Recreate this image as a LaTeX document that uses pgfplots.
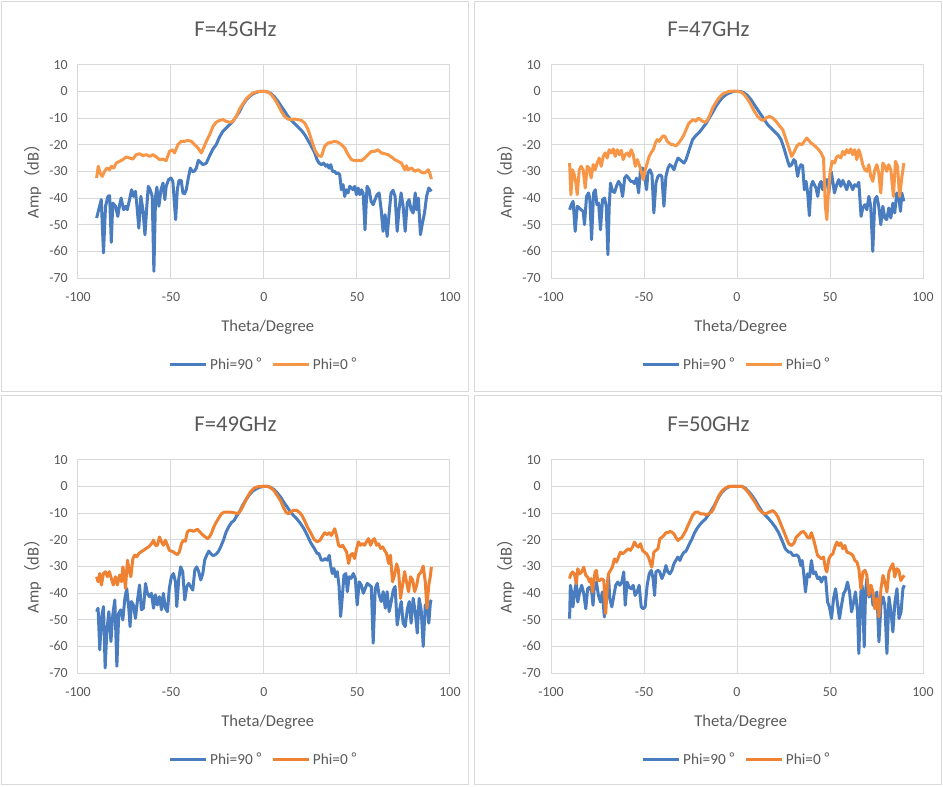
\documentclass[border=0pt]{standalone}
\usepackage{fontspec}
\setmainfont{Carlito}
\newfontfamily\cjk{Noto Sans CJK SC}
\usepackage{pgfplots}
\usepackage{pgfplotstable}
\pgfplotsset{compat=1.18}
\definecolor{txt}{HTML}{595959}
\definecolor{gridc}{HTML}{D9D9D9}
\definecolor{sblue}{HTML}{4A7DBF}
\definecolor{sorange}{HTML}{F79646}
\definecolor{sorangeb}{HTML}{EE8232}

% ---------- F=45GHz ----------
\pgfplotstableread{
x y
-90 -47.5
-89.3 -45.6
-87.5 -40.6
-86.3 -60.6
-85.2 -43.1
-83.9 -39.4
-83.0 -39.1
-82.1 -56.6
-81.3 -41.9
-79.8 -43.1
-78.6 -46.9
-77.7 -42.9
-76.8 -40.0
-75.5 -44.4
-74.4 -43.1
-73.5 -44.4
-72.3 -40.6
-71.2 -36.9
-70.2 -39.4
-69.1 -37.5
-68.3 -43.1
-67.3 -51.3
-66.2 -39.4
-65.1 -44.4
-64.0 -53.8
-63.0 -43.1
-62.2 -35.6
-61.2 -36.9
-60.1 -39.4
-59.2 -67.5
-58.3 -39.4
-57.6 -35.9
-56.5 -43.1
-55.4 -36.9
-54.3 -34.4
-53.3 -40.6
-52.6 -35.6
-51.3 -33.1
-50.0 -32.5
-49.0 -33.8
-47.5 -48.1
-46.6 -36.9
-45.7 -33.4
-44.5 -33.4
-43.6 -38.1
-42.7 -38.4
-41.8 -36.9
-40.7 -32.5
-39.6 -28.8
-38.6 -30.0
-37.5 -30.0
-36.4 -28.8
-35.3 -25.9
-34.1 -26.6
-32.8 -27.5
-31.0 -26.9
-29.2 -24.1
-27.4 -21.6
-25.7 -20.0
-23.9 -17.1
-22.1 -15.0
-20.3 -13.75
-18.5 -12.5
-16.7 -11.25
-14.9 -9.4
-13.1 -7.5
-11.3 -5.0
-9.5 -3.1
-7.7 -1.9
-5.9 -0.9
-4.1 -0.4
-2.3 0
0 0
2.2 -0.25
3.9 -0.9
5.7 -2.1
7.5 -3.75
9.3 -5.6
11.1 -7.5
12.9 -9.4
14.7 -10.9
16.5 -12.1
18.3 -13.4
20.1 -14.6
21.9 -16.25
23.7 -18.4
25.5 -20.6
27.3 -23.1
28.5 -25.6
29.6 -26.9
30.9 -27.5
32.1 -26.9
33.2 -28.1
34.1 -27.5
35.0 -28.8
35.9 -27.5
36.8 -30.0
38.0 -30.0
38.9 -30.9
39.8 -30.6
40.7 -31.25
41.6 -36.9
42.5 -35.0
43.4 -39.4
44.3 -36.9
45.2 -38.1
46.1 -35.6
47.0 -36.25
47.9 -36.9
48.8 -35.6
49.7 -38.75
50.6 -36.25
51.5 -38.75
52.4 -36.9
53.3 -38.1
54.3 -51.9
55.4 -35.6
56.5 -36.9
57.6 -41.25
58.7 -42.5
59.7 -40.6
60.8 -38.75
61.9 -38.1
63.0 -44.4
64.0 -52.5
65.1 -46.25
66.2 -54.4
67.3 -45.6
68.3 -38.1
69.4 -37.1
70.5 -39.4
71.6 -52.5
72.6 -44.4
73.7 -38.1
74.8 -43.1
75.9 -52.5
77.0 -41.9
78.0 -40.6
79.1 -44.4
80.2 -45.6
81.3 -38.1
82.0 -44.4
83.0 -40.0
84.1 -53.75
85.2 -49.4
86.3 -45.6
87.4 -39.4
88.6 -36.25
90.0 -37.5
}\tblueA

\pgfplotstableread{
x y
-90 -32.5
-89.1 -28.1
-88.1 -30.6
-87.0 -31.9
-85.7 -30.0
-84.4 -28.75
-83.0 -29.4
-82.1 -28.1
-80.8 -28.75
-79.4 -26.9
-77.7 -26.25
-75.9 -25.6
-74.1 -24.6
-72.3 -25.0
-70.5 -25.4
-68.7 -23.75
-66.9 -23.4
-65.1 -24.1
-63.3 -23.75
-61.5 -24.4
-59.7 -23.75
-57.9 -24.6
-56.1 -25.6
-54.3 -25.4
-52.6 -26.0
-50.8 -22.5
-49.3 -21.9
-48.1 -23.1
-46.3 -20.0
-44.5 -18.75
-42.7 -18.75
-40.9 -18.4
-39.1 -18.75
-37.3 -20.0
-35.5 -21.25
-33.7 -23.1
-32.5 -21.25
-31.0 -18.75
-29.2 -16.25
-27.4 -13.1
-25.7 -11.6
-23.9 -10.9
-22.1 -10.6
-20.3 -11.25
-18.5 -11.6
-16.7 -11.25
-14.9 -9.4
-13.1 -6.6
-11.3 -4.6
-9.5 -2.75
-7.7 -1.6
-5.9 -0.6
-4.1 -0.25
-2.3 0
0 0
2.2 -0.25
3.9 -1.25
5.7 -2.9
7.5 -5.0
9.3 -7.5
11.1 -9.4
12.9 -10.4
14.7 -10.6
16.5 -10.4
18.3 -10.6
20.1 -10.9
21.9 -11.9
23.7 -14.4
25.5 -18.1
27.3 -21.9
29.1 -24.1
30.9 -24.4
32.6 -20.6
34.4 -19.4
36.2 -19.1
38.0 -18.75
39.8 -19.1
41.6 -20.0
43.4 -21.25
45.2 -23.75
47.0 -25.6
48.8 -26.0
50.6 -25.9
52.4 -26.0
54.2 -25.0
56.0 -23.75
57.8 -22.5
59.6 -22.5
61.3 -21.9
63.1 -23.1
64.9 -23.4
66.7 -23.75
68.5 -24.6
70.3 -25.6
72.1 -26.25
73.9 -26.9
75.7 -29.4
76.6 -27.9
77.5 -29.4
79.3 -28.75
81.1 -30.0
82.9 -29.4
84.7 -30.4
86.5 -30.6
88.3 -29.4
89.1 -30.6
90.0 -32.9
}\torangeA

% ---------- F=47GHz ----------
\pgfplotstableread{
x y
-90 -44.4
-89.1 -42.5
-88.1 -41.25
-87.0 -52.5
-85.9 -43.1
-84.8 -43.75
-83.8 -44.4
-82.7 -45.0
-82.0 -50.0
-80.9 -39.4
-79.8 -38.1
-79.1 -40.6
-78.2 -55.6
-77.1 -38.1
-76.2 -36.9
-75.3 -42.5
-74.4 -41.9
-73.4 -51.9
-72.3 -40.6
-71.2 -40.0
-70.3 -43.1
-69.4 -61.25
-68.7 -43.1
-68.0 -34.4
-66.9 -37.5
-65.8 -37.9
-64.8 -35.6
-63.7 -33.75
-62.6 -35.0
-61.5 -39.4
-60.4 -32.5
-59.4 -31.6
-58.3 -32.5
-57.2 -33.75
-56.1 -33.75
-55.1 -34.6
-54.0 -32.5
-52.9 -38.1
-51.8 -28.75
-50.8 -28.75
-49.7 -31.9
-48.6 -36.9
-47.9 -30.6
-46.8 -29.4
-45.7 -31.25
-44.7 -45.6
-43.6 -34.4
-42.5 -31.9
-41.4 -31.25
-40.4 -31.9
-39.3 -43.1
-38.2 -31.9
-37.1 -28.75
-36.1 -27.5
-35.0 -28.1
-33.9 -29.4
-32.8 -26.9
-31.7 -25.0
-30.7 -25.6
-29.6 -26.25
-28.5 -26.9
-27.4 -25.6
-25.7 -21.9
-23.9 -18.1
-22.1 -16.6
-20.3 -15.4
-18.5 -13.75
-16.7 -12.1
-14.9 -10.0
-13.1 -7.9
-11.3 -5.6
-9.5 -3.75
-7.7 -2.25
-5.9 -1.25
-4.1 -0.6
-2.3 -0.1
0 0
2.2 -0.1
3.9 -0.6
5.7 -1.6
7.5 -3.1
9.3 -5.0
11.1 -6.9
12.9 -8.75
14.7 -10.6
16.5 -12.5
18.3 -13.75
20.1 -15.0
21.9 -16.25
23.7 -18.1
25.5 -21.9
27.3 -26.25
28.2 -28.1
29.4 -27.5
30.5 -25.6
31.4 -26.25
32.6 -31.9
33.5 -28.75
34.4 -27.5
35.3 -27.9
36.2 -36.9
37.1 -33.75
38.0 -38.1
38.9 -46.6
39.8 -35.6
40.7 -33.75
41.6 -35.0
42.5 -36.25
43.4 -39.4
44.3 -35.0
45.2 -33.75
46.1 -36.9
47.0 -33.75
48.3 -33.1
49.3 -38.1
50.6 -30.0
51.5 -33.75
52.4 -38.1
53.6 -35.0
54.7 -33.1
55.8 -35.6
56.9 -33.4
57.9 -35.0
59.0 -36.9
60.1 -33.75
61.2 -35.0
62.2 -36.9
63.3 -35.0
64.4 -35.6
65.5 -34.1
66.7 -46.9
67.6 -43.75
68.7 -42.5
69.8 -44.4
70.9 -39.4
71.9 -43.1
73.0 -60.0
74.1 -40.6
75.2 -39.4
76.2 -43.1
77.3 -50.0
78.4 -43.1
79.5 -47.5
80.5 -48.1
81.6 -43.75
82.7 -47.5
83.8 -41.9
84.8 -45.6
85.9 -38.1
87.0 -40.0
87.9 -45.0
88.6 -38.1
89.7 -41.25
}\tblueB

\pgfplotstableread{
x y
-90 -26.9
-89.3 -38.75
-88.4 -29.4
-87.5 -31.25
-86.6 -34.4
-85.9 -38.75
-84.8 -29.4
-83.8 -28.1
-82.7 -29.4
-81.6 -36.25
-80.5 -28.1
-79.5 -28.75
-78.4 -32.5
-77.3 -27.5
-76.2 -29.4
-75.2 -26.9
-74.1 -25.0
-73.0 -28.1
-71.9 -24.4
-70.9 -23.1
-69.8 -25.0
-68.7 -21.9
-67.6 -23.1
-66.5 -21.6
-65.5 -24.4
-64.4 -21.9
-63.3 -23.75
-62.2 -22.1
-61.2 -25.6
-60.1 -23.75
-59.0 -23.1
-57.9 -24.4
-56.9 -21.9
-55.8 -23.75
-54.7 -28.1
-53.6 -25.6
-52.6 -27.5
-51.5 -30.0
-50.4 -33.1
-49.3 -29.4
-48.3 -26.9
-47.2 -24.4
-46.1 -22.9
-45.0 -21.9
-43.9 -19.4
-42.9 -18.1
-41.8 -18.75
-40.7 -17.5
-39.6 -16.6
-38.6 -17.1
-37.5 -18.75
-36.4 -19.4
-35.3 -20.0
-34.3 -20.0
-32.8 -20.4
-31.4 -19.4
-30.0 -18.1
-28.5 -16.25
-27.4 -14.4
-26.0 -12.1
-24.8 -11.25
-23.5 -10.6
-22.1 -11.25
-20.8 -10.0
-19.6 -10.6
-18.5 -11.25
-17.0 -11.6
-15.8 -10.6
-14.5 -8.75
-13.1 -6.25
-11.3 -4.1
-9.5 -2.25
-7.7 -1.0
-5.9 -0.4
-4.1 0
-2.3 0.1
0 0
2.2 -0.25
3.9 -1.25
5.7 -2.9
7.5 -5.0
9.3 -7.5
11.1 -9.4
12.9 -10.6
14.2 -10.9
15.6 -10.0
17.4 -9.4
19.2 -10.0
21.0 -11.25
22.8 -12.9
24.6 -14.4
26.4 -18.1
28.2 -21.9
29.4 -24.4
30.9 -22.5
32.1 -20.6
33.5 -19.6
35.0 -20.0
36.2 -18.75
37.5 -17.5
38.6 -18.4
39.8 -19.4
41.1 -20.0
42.5 -20.9
43.9 -21.9
45.2 -23.1
46.5 -25.0
47.5 -43.1
48.3 -48.1
49.0 -39.4
50.0 -30.6
51.1 -26.25
52.4 -26.9
53.6 -24.6
54.7 -24.1
55.8 -25.0
56.9 -22.5
57.9 -23.75
59.0 -21.9
60.1 -23.1
61.2 -21.6
62.2 -23.75
63.3 -21.9
64.4 -25.6
65.5 -21.9
66.5 -24.1
67.6 -27.5
68.7 -29.4
69.8 -30.0
70.9 -27.5
71.9 -31.9
73.0 -33.75
74.1 -29.4
75.2 -27.5
76.2 -30.6
77.3 -38.1
78.4 -26.9
79.5 -28.1
80.5 -30.0
81.6 -27.5
82.7 -29.4
84.1 -39.4
85.2 -26.25
86.3 -28.1
87.4 -39.4
88.7 -31.9
89.7 -26.9
}\torangeB

% ---------- F=49GHz ----------
\pgfplotstableread{
x y
-90 -47.0
-89.2 -45.7
-88.3 -61.3
-87.4 -49.5
-86.3 -45.1
-85.4 -68.1
-84.5 -54.4
-83.4 -47.0
-82.3 -58.2
-81.3 -48.2
-80.2 -42.6
-79.1 -67.5
-78.1 -47.6
-77.0 -46.3
-75.9 -50.1
-74.8 -42.0
-73.8 -38.3
-72.7 -45.7
-72.0 -52.6
-71.3 -43.2
-70.2 -44.5
-69.1 -49.5
-68.0 -42.6
-66.9 -37.0
-65.9 -46.3
-64.8 -45.7
-63.7 -36.4
-62.7 -40.1
-61.6 -41.4
-60.5 -40.1
-59.4 -45.7
-58.4 -40.7
-57.3 -44.5
-56.2 -41.4
-55.1 -46.3
-54.1 -40.1
-53.0 -45.7
-51.9 -47.0
-50.9 -38.3
-49.8 -33.9
-48.7 -32.7
-47.6 -35.8
-46.9 -45.1
-45.8 -34.5
-44.8 -30.2
-43.7 -32.0
-42.6 -42.6
-41.5 -37.6
-40.5 -36.4
-39.4 -37.6
-38.3 -38.9
-37.2 -31.4
-36.2 -30.2
-35.1 -32.0
-34.0 -35.1
-32.9 -32.7
-31.9 -27.7
-30.8 -25.8
-29.7 -24.3
-28.6 -25.2
-27.6 -25.9
-26.5 -25.8
-25.4 -25.2
-24.4 -24.3
-23.3 -22.7
-21.8 -20.2
-20.4 -17.2
-19.0 -15.2
-17.5 -13.6
-16.1 -12.8
-14.7 -11.1
-13.3 -9.7
-11.5 -7.2
-9.7 -5.0
-7.9 -3.2
-6.1 -1.8
-4.3 -1.0
-2.5 -0.4
0 0
1.8 0
3.6 -0.4
5.4 -1.2
7.2 -2.5
9.0 -4.1
10.7 -6.0
12.5 -7.8
14.3 -9.7
16.1 -11.1
17.9 -12.4
19.7 -14.0
21.5 -15.9
23.3 -18.4
25.1 -21.1
26.9 -23.1
28.6 -25.2
29.5 -25.2
30.8 -27.7
31.9 -27.7
32.9 -27.1
34.0 -27.7
35.1 -25.9
35.8 -29.6
36.7 -32.7
37.6 -30.8
38.5 -33.9
39.4 -32.0
40.3 -37.0
41.2 -48.8
41.9 -43.2
43.0 -33.3
44.0 -32.7
44.8 -39.5
45.8 -33.9
46.9 -34.5
48.0 -32.7
49.1 -34.5
50.1 -44.5
51.2 -35.8
52.3 -37.0
53.4 -40.1
54.4 -38.3
55.5 -36.4
56.6 -37.0
57.7 -37.6
58.7 -58.8
59.8 -38.3
60.9 -36.4
61.9 -40.7
63.0 -43.2
64.1 -39.5
65.2 -45.7
66.2 -39.5
67.3 -47.0
68.4 -43.2
69.5 -38.9
70.5 -37.6
71.6 -52.0
72.7 -47.0
73.8 -43.2
74.8 -51.3
75.9 -52.6
77.0 -46.3
78.1 -43.2
79.1 -51.3
80.2 -42.0
81.3 -47.0
82.4 -55.0
83.4 -42.0
84.5 -46.3
85.6 -60.0
86.7 -44.5
87.7 -45.1
88.6 -51.3
89.5 -43.2
90.0 -42.6
}\tblueC

\pgfplotstableread{
x y
-90 -33.9
-89.2 -35.8
-88.3 -32.7
-87.4 -37.0
-86.3 -32.7
-85.2 -32.0
-84.2 -33.9
-83.1 -32.0
-82.1 -34.5
-81.0 -37.0
-79.9 -33.9
-78.8 -37.0
-77.7 -33.3
-76.6 -35.8
-75.9 -30.2
-75.2 -32.7
-74.5 -38.3
-73.4 -27.7
-72.3 -32.0
-71.6 -33.9
-70.5 -27.1
-69.5 -25.8
-68.4 -26.4
-67.3 -25.2
-66.2 -24.6
-64.8 -24.0
-63.4 -23.3
-62.0 -22.7
-60.5 -21.5
-59.4 -20.2
-58.4 -22.1
-57.3 -22.1
-56.2 -19.0
-55.1 -20.8
-54.1 -22.1
-53.0 -20.2
-51.9 -22.1
-50.9 -24.0
-49.8 -24.3
-48.7 -24.6
-47.6 -25.2
-46.6 -25.6
-45.5 -24.6
-44.4 -21.5
-43.3 -20.2
-42.3 -20.6
-41.2 -17.1
-40.1 -16.5
-39.0 -16.5
-38.0 -16.9
-36.9 -16.5
-35.8 -16.1
-34.7 -16.9
-33.7 -17.7
-32.6 -18.4
-31.5 -19.0
-30.4 -19.6
-29.4 -19.0
-28.3 -17.7
-27.2 -15.6
-26.1 -14.0
-25.1 -12.8
-24.0 -11.5
-22.9 -10.3
-21.5 -9.7
-19.7 -9.7
-17.9 -9.7
-16.1 -9.9
-14.3 -10.3
-12.5 -9.0
-10.7 -6.6
-9.0 -4.1
-7.2 -2.0
-5.4 -0.7
-3.6 -0.2
-1.8 0
0 0
1.8 0
3.6 -0.5
5.4 -1.6
7.2 -3.5
9.0 -5.5
10.4 -7.8
11.8 -9.7
13.2 -10.3
14.7 -9.4
16.1 -9.0
17.5 -9.0
19.0 -9.7
20.4 -10.9
21.8 -12.8
23.3 -15.2
25.1 -17.4
26.9 -19.9
28.6 -20.8
30.1 -20.2
31.5 -18.6
32.6 -17.4
34.0 -18.1
35.1 -17.4
36.2 -18.4
37.2 -17.1
38.0 -15.9
39.0 -18.4
40.1 -22.1
41.2 -22.7
42.3 -22.1
43.3 -23.3
44.4 -24.6
45.5 -28.9
46.5 -25.8
47.6 -25.2
48.7 -27.1
49.8 -23.3
50.8 -20.8
51.9 -22.1
53.0 -21.5
54.1 -22.1
55.1 -20.8
56.2 -19.6
57.3 -22.1
58.4 -20.2
59.4 -19.6
60.5 -22.1
61.6 -21.5
62.7 -23.3
63.8 -22.7
64.8 -24.0
65.9 -25.2
67.0 -28.9
68.0 -25.8
69.1 -35.8
70.2 -33.3
71.3 -29.1
72.3 -31.4
73.4 -42.0
74.5 -37.0
75.6 -32.0
76.6 -35.8
77.7 -39.5
78.8 -33.9
79.9 -35.1
81.0 -39.5
82.1 -37.0
83.1 -33.3
84.6 -32.0
85.6 -29.9
86.7 -35.8
87.6 -45.7
88.6 -37.0
89.5 -33.3
90.0 -30.2
}\torangeC

% ---------- F=50GHz ----------
\pgfplotstableread{
x y
-90 -49.6
-89.6 -37.1
-88.9 -39.6
-88.2 -45.2
-87.4 -40.2
-86.4 -35.9
-85.6 -43.4
-84.6 -39.6
-83.5 -37.1
-82.4 -40.2
-81.3 -45.9
-80.3 -38.4
-79.2 -37.8
-78.1 -39.6
-77.4 -44.6
-76.7 -37.1
-75.6 -35.9
-74.5 -40.9
-73.4 -43.4
-72.4 -39.6
-71.3 -49.0
-70.2 -39.6
-69.1 -33.4
-68.4 -42.1
-67.3 -45.2
-66.2 -40.9
-65.2 -37.1
-64.1 -35.9
-63.0 -37.1
-61.9 -35.9
-60.9 -32.1
-60.1 -44.6
-59.1 -35.9
-58.0 -37.8
-56.9 -38.4
-55.8 -37.1
-54.8 -40.9
-53.7 -39.6
-52.6 -37.1
-51.5 -45.2
-50.4 -45.9
-49.4 -45.2
-48.3 -37.1
-47.2 -32.8
-46.1 -31.5
-45.1 -34.6
-44.3 -40.9
-43.6 -32.1
-42.5 -31.5
-41.5 -32.1
-40.4 -34.6
-39.3 -32.8
-38.2 -29.7
-37.2 -32.1
-36.1 -32.8
-35.0 -31.5
-33.9 -29.0
-32.9 -27.8
-31.8 -26.5
-30.7 -27.8
-29.6 -25.9
-28.5 -24.7
-27.5 -24.4
-26.0 -22.2
-24.2 -19.7
-22.8 -17.4
-21.4 -15.7
-20.0 -14.4
-18.5 -13.2
-17.1 -12.4
-15.6 -10.9
-14.2 -9.5
-12.7 -7.8
-11.3 -6.0
-9.9 -4.1
-8.1 -2.2
-6.3 -1.0
-4.5 -0.2
-2.7 0
0 0
2.7 0
4.5 -0.7
6.3 -2.0
8.1 -3.5
9.9 -5.3
11.7 -7.5
13.5 -9.5
15.3 -10.9
17.1 -12.2
18.9 -13.7
20.6 -15.3
22.4 -17.4
24.2 -20.3
26.0 -23.4
27.8 -24.7
28.9 -24.7
30.0 -25.9
31.1 -25.9
32.1 -25.7
33.2 -26.5
34.3 -29.7
35.0 -27.8
35.7 -31.5
36.8 -39.6
37.9 -32.8
39.0 -34.0
40.0 -27.8
41.1 -32.8
42.2 -32.1
43.3 -34.6
44.3 -34.0
45.4 -35.9
46.5 -34.0
47.6 -34.0
48.7 -43.4
49.7 -45.2
50.8 -49.6
51.9 -42.1
53.0 -38.4
54.0 -44.0
55.1 -49.6
56.2 -44.6
57.3 -40.2
58.3 -39.0
59.4 -35.9
60.5 -39.6
61.6 -47.1
62.7 -43.4
63.7 -39.6
64.8 -47.1
65.5 -62.7
66.6 -39.6
67.3 -37.1
68.4 -60.2
69.1 -39.6
69.8 -34.6
70.9 -41.5
72.0 -37.1
73.1 -44.6
74.1 -42.1
75.2 -39.6
76.3 -58.3
77.4 -44.6
78.5 -41.5
79.5 -44.6
80.6 -62.7
81.7 -41.5
82.8 -47.1
83.8 -54.6
84.9 -43.4
86.0 -38.4
87.1 -49.6
88.2 -47.1
89.2 -38.4
90.0 -37.1
}\tblueD

\pgfplotstableread{
x y
-90 -34.6
-89.6 -33.4
-88.5 -32.1
-87.4 -32.8
-86.4 -36.5
-85.6 -30.9
-84.6 -32.8
-83.5 -32.1
-82.4 -30.3
-81.3 -33.4
-80.3 -34.0
-79.2 -35.9
-78.5 -34.6
-77.7 -39.6
-77.0 -35.9
-76.3 -32.1
-75.6 -31.5
-74.9 -35.3
-73.8 -35.3
-72.7 -34.6
-71.6 -35.3
-70.6 -47.7
-69.8 -38.4
-69.1 -32.8
-68.0 -31.5
-67.0 -30.3
-65.9 -27.2
-64.8 -28.4
-63.7 -26.5
-62.7 -24.7
-61.6 -25.3
-60.5 -24.7
-59.4 -24.0
-58.3 -23.4
-57.3 -24.0
-56.2 -22.8
-55.1 -20.9
-54.0 -22.2
-53.0 -22.8
-51.9 -21.5
-50.8 -24.0
-49.7 -24.7
-48.6 -25.3
-47.6 -26.5
-46.5 -29.0
-45.8 -30.3
-44.7 -24.7
-43.6 -24.0
-42.5 -23.4
-41.5 -19.7
-40.4 -19.1
-39.3 -18.4
-38.2 -17.4
-37.2 -17.4
-36.1 -16.9
-35.0 -17.2
-33.9 -17.8
-32.9 -19.1
-31.8 -20.3
-30.7 -19.7
-29.6 -19.1
-28.5 -17.8
-27.5 -16.6
-26.4 -14.7
-25.1 -12.8
-23.9 -10.9
-22.4 -9.7
-21.0 -9.7
-19.6 -10.3
-18.1 -10.3
-16.7 -10.7
-15.3 -10.3
-13.8 -9.7
-12.7 -8.5
-11.3 -6.0
-9.9 -3.7
-8.1 -1.8
-6.3 -0.7
-4.5 0
-2.7 0
0 0
2.7 0
4.5 -1.0
6.3 -2.5
8.1 -4.3
9.9 -6.2
11.7 -8.5
13.5 -9.7
14.9 -10.3
16.3 -10.0
17.8 -9.5
19.2 -9.1
20.6 -10.0
22.1 -11.6
23.5 -14.1
25.0 -16.6
26.4 -19.1
27.8 -21.5
29.3 -22.2
30.7 -21.2
31.8 -19.1
33.2 -18.2
34.6 -17.2
35.7 -16.9
36.8 -17.8
37.9 -19.1
39.0 -19.4
40.0 -17.4
41.1 -19.7
42.2 -22.8
43.3 -25.9
44.3 -26.5
45.4 -27.2
46.5 -26.5
47.6 -30.9
48.3 -32.1
49.4 -27.2
50.4 -25.9
51.5 -25.3
52.6 -22.8
53.7 -20.9
54.8 -22.2
55.8 -21.2
56.9 -23.4
58.0 -22.2
59.1 -24.7
60.1 -24.9
61.2 -25.3
62.3 -25.9
63.4 -27.8
64.5 -28.4
65.5 -30.9
66.6 -38.4
67.7 -32.1
68.8 -31.5
69.8 -33.4
70.9 -40.9
72.0 -37.1
73.1 -39.6
74.1 -45.9
75.2 -42.1
76.3 -49.0
77.4 -38.4
78.5 -33.4
79.5 -35.9
80.6 -39.6
81.7 -32.1
82.8 -30.3
83.8 -29.0
84.8 -34.0
85.9 -30.9
87.0 -31.5
88.1 -35.3
89.2 -34.0
90.0 -33.4
}\torangeD

\newcommand{\degs}{\hspace{2.5pt}{\cjk °}}

\pgfplotsset{
  panel/.style={
    scale only axis, width=279pt, height=160pt,
    xmin=-100, xmax=100, ymin=-70, ymax=10,
    xtick={-100,-50,0,50,100}, ytick={-70,-60,...,10},
    grid=major, major grid style={draw=gridc, line width=0.75pt},
    axis line style={draw=gridc, line width=0.75pt},
    major tick length=0pt,
    /pgf/number format/assume math mode=true,
    tick label style={font=\fontsize{10.4}{12}\selectfont, text=txt},
    yticklabel style={anchor=east, inner sep=0pt, xshift=-7.5pt},
    xticklabel style={anchor=north, inner sep=0pt, yshift=-11pt},
    xlabel={Theta/Degree},
    ylabel={Amp{\cjk （}dB{\cjk ）}},
    label style={font=\fontsize{12.4}{14}\selectfont, text=txt},
    xlabel style={at={(axis description cs:0.51,-0.229)}, anchor=center},
    ylabel style={at={(axis description cs:-0.121,0.472)}, anchor=center},
    title style={at={(axis description cs:0.4234,1.128)}, anchor=center, yshift=0pt, font=\fontsize{17}{20}\selectfont, text=txt},
    legend columns=2,
    legend style={at={(axis description cs:0.5,-0.404)}, anchor=center, draw=none, fill=none,
      font=\fontsize{11.5}{13}\selectfont, text=txt,
      /tikz/every even column/.append style={column sep=5pt}},
    legend image code/.code={\draw[#1] (0pt,0pt) -- (27pt,0pt);},
    every axis plot/.append style={line width=2.25pt, line join=round, no marks},
  },
}

\begin{document}
\begin{tikzpicture}
\fill[white] (0pt,0pt) rectangle (707.25pt,-589.5pt);
\useasboundingbox (0pt,0pt) rectangle (707.25pt,-589.5pt);
\draw[gridc, line width=0.75pt] (1.125pt,-1.125pt) rectangle (351.4pt,-293.25pt);
\draw[gridc, line width=0.75pt] (355.9pt,-1.125pt) rectangle (706.1pt,-293.25pt);
\draw[gridc, line width=0.75pt] (1.125pt,-296.6pt) rectangle (351.4pt,-588.4pt);
\draw[gridc, line width=0.75pt] (355.9pt,-296.6pt) rectangle (706.1pt,-588.4pt);

\begin{axis}[panel, at={(58.5pt,-208.5pt)}, anchor=south west, title={F=45GHz}]
\addplot[sblue] table[x=x,y=y] {\tblueA};
\addlegendentry{Phi=90\degs}
\addplot[sorange] table[x=x,y=y] {\torangeA};
\addlegendentry{Phi=0\degs}
\end{axis}

\begin{axis}[panel, at={(413.25pt,-208.5pt)}, anchor=south west, title={F=47GHz}]
\addplot[sblue] table[x=x,y=y] {\tblueB};
\addlegendentry{Phi=90\degs}
\addplot[sorange] table[x=x,y=y] {\torangeB};
\addlegendentry{Phi=0\degs}
\end{axis}

\begin{axis}[panel, at={(58.5pt,-504.75pt)}, anchor=south west, title={F=49GHz}]
\addplot[sblue] table[x=x,y=y] {\tblueC};
\addlegendentry{Phi=90\degs}
\addplot[sorangeb] table[x=x,y=y] {\torangeC};
\addlegendentry{Phi=0\degs}
\end{axis}

\begin{axis}[panel, at={(413.25pt,-504.75pt)}, anchor=south west, title={F=50GHz}]
\addplot[sblue] table[x=x,y=y] {\tblueD};
\addlegendentry{Phi=90\degs}
\addplot[sorangeb] table[x=x,y=y] {\torangeD};
\addlegendentry{Phi=0\degs}
\end{axis}
\end{tikzpicture}
\end{document}
